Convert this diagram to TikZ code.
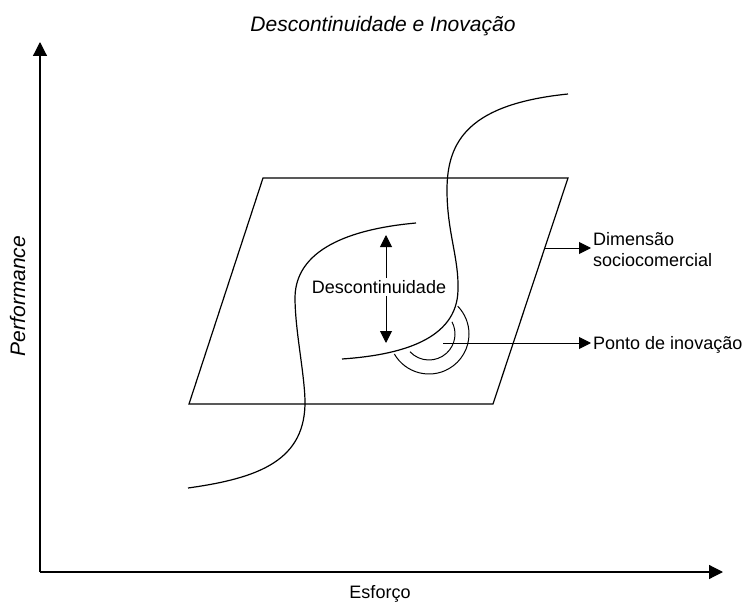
\documentclass[tikz,border=0pt]{standalone}
\usepackage{fontspec}
\setmainfont{Liberation Sans}
\usetikzlibrary{arrows.meta}
\begin{document}
\begin{tikzpicture}[x=1pt,y=1pt,
  ln/.style={line width=1.2pt, black},
  thin/.style={line width=1pt, black},
  tip/.style={-{Triangle[length=12pt,width=12pt]}},
  axtip/.style={-{Triangle[length=14pt,width=14pt]}},
  lbl/.style={font=\fontsize{18}{21}\selectfont, inner sep=2pt},
  big/.style={font=\fontsize{21}{24}\selectfont\itshape, inner sep=0pt},
 ]
\useasboundingbox (0,0) rectangle (748,-602);
% axes
\coordinate (O) at (40,-572);
\coordinate (ytip) at (40,-42);
\coordinate (xtip) at (723,-572);
\draw[ln,axtip] (O) -- (ytip);
\draw[ln,axtip] (O) -- (xtip);
\node[big, anchor=base] (title) at (383,-32) {Descontinuidade e Inovação};
\node[big, rotate=90, anchor=base] (perf) at (25,-296) {Performance};
\node[lbl, anchor=base, inner sep=0pt] (esf) at (380,-598) {Esforço};
% plane
\coordinate (tl) at (263,-178);
\coordinate (tr) at (568,-178);
\coordinate (br) at (493,-404);
\coordinate (bl) at (189,-404);
\draw[ln, line join=miter] (tl) -- (tr) -- (br) -- (bl) -- cycle;
% curves
\coordinate (c1s) at (188,-488);
\coordinate (c1e) at (416,-223);
\draw[ln] (c1s) .. controls (260,-478) and (306,-460) .. (305,-400)
  .. controls (304,-370) and (295,-330) .. (295,-297)
  .. controls (296,-245) and (360,-228) .. (c1e);
\coordinate (c2s) at (568,-94);
\coordinate (c2e) at (342,-359);
\draw[ln] (c2s) .. controls (470,-104) and (447,-140) .. (447,-190)
  .. controls (447,-232) and (459,-258) .. (458,-290)
  .. controls (457,-340) and (400,-355) .. (c2e);
% innovation point arcs
\coordinate (pc) at (429,-334);
\draw[thin] (pc) ++(223:26) arc[start angle=223, end angle=388, radius=26];
\draw[thin] (pc) ++(210:40) arc[start angle=210, end angle=404, radius=40];
% discontinuity
\node[lbl] (desc) at (379,-287) {Descontinuidade};
\coordinate (dtop) at (386,-235);
\coordinate (dbot) at (386,-343);
\draw[thin,tip] (desc.north -| dtop) -- (dtop);
\draw[thin,tip] (desc.south -| dbot) -- (dbot);
% right labels
\node[lbl, anchor=west, align=left] (dim) at (591,-250) {Dimensão\\sociocomercial};
\coordinate (dims) at (545,-248);
\draw[thin,tip] (dims) -- (dims -| dim.west);
\node[lbl, anchor=base west] (ponto) at (591,-349) {Ponto de inovação};
\coordinate (ps) at (443,-343);
\draw[thin,tip] (ps) -- (ps -| ponto.west);
\end{tikzpicture}
\end{document}
